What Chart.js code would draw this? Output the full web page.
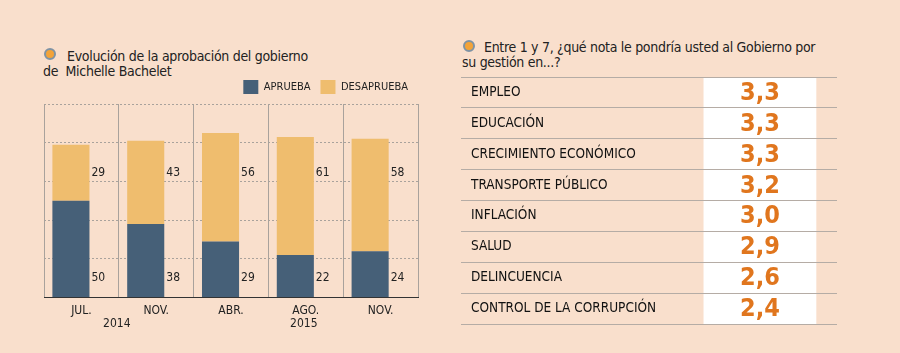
<!DOCTYPE html>
<html>
<head>
<meta charset="utf-8">
<script src="https://cdn.jsdelivr.net/npm/chart.js@4.4.1/dist/chart.umd.min.js"></script>
<style>
  html, body { margin: 0; padding: 0; background: #f9dfcc; }
  #wrap { position: relative; width: 900px; height: 353px; overflow: hidden; background: #f9dfcc; }
  canvas { position: absolute; top: 0; }
  .title { position: absolute; font: 14px "DejaVu Sans Condensed", sans-serif; line-height: 15px;
           color: #222; white-space: pre; letter-spacing: -0.3px; }
  .dot { position: absolute; width: 8px; height: 8px; border: 2.5px solid #7f93a4;
         border-radius: 50%; background: #f3a338; }
</style>
</head>
<body>
<div id="wrap">
  <div class="dot" style="left:43.5px;top:48px"></div>
  <div class="title" style="left:43px;top:48.5px;text-indent:24px">Evolución de la aprobación del gobierno
de  Michelle Bachelet</div>
  <canvas id="approval" width="440" height="353" style="left:0;width:440px;height:353px"></canvas>

  <div class="dot" style="left:462.5px;top:39.5px"></div>
  <div class="title" style="left:462px;top:40px;text-indent:22px">Entre 1 y 7, ¿qué nota le pondría usted al Gobierno por
su gestión en...?</div>
  <canvas id="grades" width="460" height="353" style="left:440px;width:460px;height:353px"></canvas>
</div>
<script>
// ===== Data =====
const MONTHS     = ['JUL.', 'NOV.', 'ABR.', 'AGO.', 'NOV.'];
const APRUEBA    = [50, 38, 29, 22, 24];
const DESAPRUEBA = [29, 43, 56, 61, 58];
const YEARS      = ['2014', '2015'];
const YEAR_SPANS = [[0, 1], [3, 3]];   // month indices each year label sits under

const TOPICS = ['EMPLEO', 'EDUCACIÓN', 'CRECIMIENTO ECONÓMICO', 'TRANSPORTE PÚBLICO',
                'INFLACIÓN', 'SALUD', 'DELINCUENCIA', 'CONTROL DE LA CORRUPCIÓN'];
const SCORES = [3.3, 3.3, 3.3, 3.2, 3.0, 2.9, 2.6, 2.4];

// ===== Theme =====
const COND = '"DejaVu Sans Condensed", sans-serif';
const C = {
  aprueba: '#466078',
  desaprueba: '#efbd6e',
  text: '#222',
  grid: '#a9a29c',
  axis: '#333',
  orange: '#e0761e',
  rule: '#b5aca5',
};

// ── Approval chart ──────────────────────────────────────────────────────────

// value-axis heights where the number labels are written (same row for every bar)
const LABEL_AT = [10.4, 64.2];

const barLabels = {
  id: 'barLabels',
  afterDatasetsDraw(chart) {
    const { ctx, scales: { x, y } } = chart;
    ctx.save();
    ctx.fillStyle = C.text;
    ctx.textBaseline = 'middle';
    ctx.font = '12px ' + COND;
    ctx.textAlign = 'left';
    [0, 1].forEach(di => {
      chart.getDatasetMeta(di).data.forEach((bar, i) => {
        ctx.fillText(String(chart.data.datasets[di].data[i]), bar.x + bar.width / 2 + 2, y.getPixelForValue(LABEL_AT[di]));
      });
    });
    // year labels under the month ticks
    ctx.textAlign = 'center';
    const yy = x.top + 26;
    YEARS.forEach((yr, k) => {
      const [a, b] = YEAR_SPANS[k];
      const cx = (x.getPixelForTick(a) + x.getPixelForTick(b)) / 2 - 2;
      ctx.fillText(yr, cx, yy);
    });
    ctx.restore();
  },
};

new Chart(document.getElementById('approval'), {
  type: 'bar',
  data: {
    labels: MONTHS,
    datasets: [
      { label: 'APRUEBA', data: APRUEBA, backgroundColor: C.aprueba, stack: 'votes' },
      { label: 'DESAPRUEBA', data: DESAPRUEBA, backgroundColor: C.desaprueba, stack: 'votes' },
      // empty stack so the bars sit left of each column's centre
      { label: '', data: MONTHS.map(() => null), stack: 'spacer' },
    ],
  },
  options: {
    responsive: false,
    animation: false,
    events: [],
    categoryPercentage: 0.56,
    barPercentage: 1.77,
    layout: { padding: { left: 44, right: 22, top: 70, bottom: 29 } },
    plugins: {
      legend: {
        align: 'end',
        labels: {
          boxWidth: 15, boxHeight: 14, padding: 10, color: C.text,
          font: { family: COND, size: 11 },
          filter: item => item.datasetIndex < 2,
        },
      },
      tooltip: { enabled: false },
    },
    scales: {
      x: {
        stacked: true,
        grid: { color: C.grid, drawTicks: false, offset: true },
        border: { color: C.axis, width: 1 },
        ticks: { color: C.text, padding: 6, font: { family: COND, size: 12 } },
      },
      y: {
        stacked: true, min: 0, max: 100,
        ticks: { display: false, stepSize: 20 },
        grid: { color: C.grid, drawTicks: false },
        border: { display: false, dash: [2, 2] },
      },
    },
  },
  plugins: [barLabels],
});

// ── Grades table ────────────────────────────────────────────────────────────

const COLUMN = [0.645, 0.945];   // white score column, in x-scale units

const scoreColumn = {
  id: 'scoreColumn',
  beforeDraw(chart) {
    const { ctx, chartArea, scales: { x } } = chart;
    ctx.save();
    ctx.fillStyle = '#ffffff';
    const l = x.getPixelForValue(COLUMN[0]), r = x.getPixelForValue(COLUMN[1]);
    ctx.fillRect(l, chartArea.top, r - l, chartArea.bottom - chartArea.top);
    ctx.restore();
  },
  afterDatasetsDraw(chart) {
    const { ctx, scales: { x, y } } = chart;
    const cx = x.getPixelForValue((COLUMN[0] + COLUMN[1]) / 2);
    ctx.save();
    ctx.fillStyle = C.orange;
    ctx.font = 'bold 25px ' + COND;
    ctx.textAlign = 'center';
    ctx.textBaseline = 'middle';
    chart.data.datasets[0].data.forEach((v, i) => {
      ctx.fillText(v.toFixed(1).replace('.', ','), cx, y.getPixelForValue(i) + 1);
    });
    ctx.restore();
  },
};

new Chart(document.getElementById('grades'), {
  type: 'bar',
  data: {
    labels: TOPICS,
    datasets: [{ label: 'Nota', data: SCORES, backgroundColor: 'rgba(0,0,0,0)' }],
  },
  options: {
    indexAxis: 'y',
    responsive: false,
    animation: false,
    events: [],
    layout: { padding: { left: 21, right: 63, top: 77, bottom: 29 } },
    plugins: { legend: { display: false }, tooltip: { enabled: false } },
    scales: {
      x: { min: 0, max: 1, display: false },
      y: {
        grid: { color: C.rule, drawTicks: false, offset: true },
        border: { display: false },
        ticks: { mirror: true, padding: 10, color: '#111', font: { family: COND, size: 13.5 } },
        afterFit(scale) { scale.width = 0; },   // labels sit inside the rows
      },
    },
  },
  plugins: [scoreColumn],
});
</script>
</body>
</html>
